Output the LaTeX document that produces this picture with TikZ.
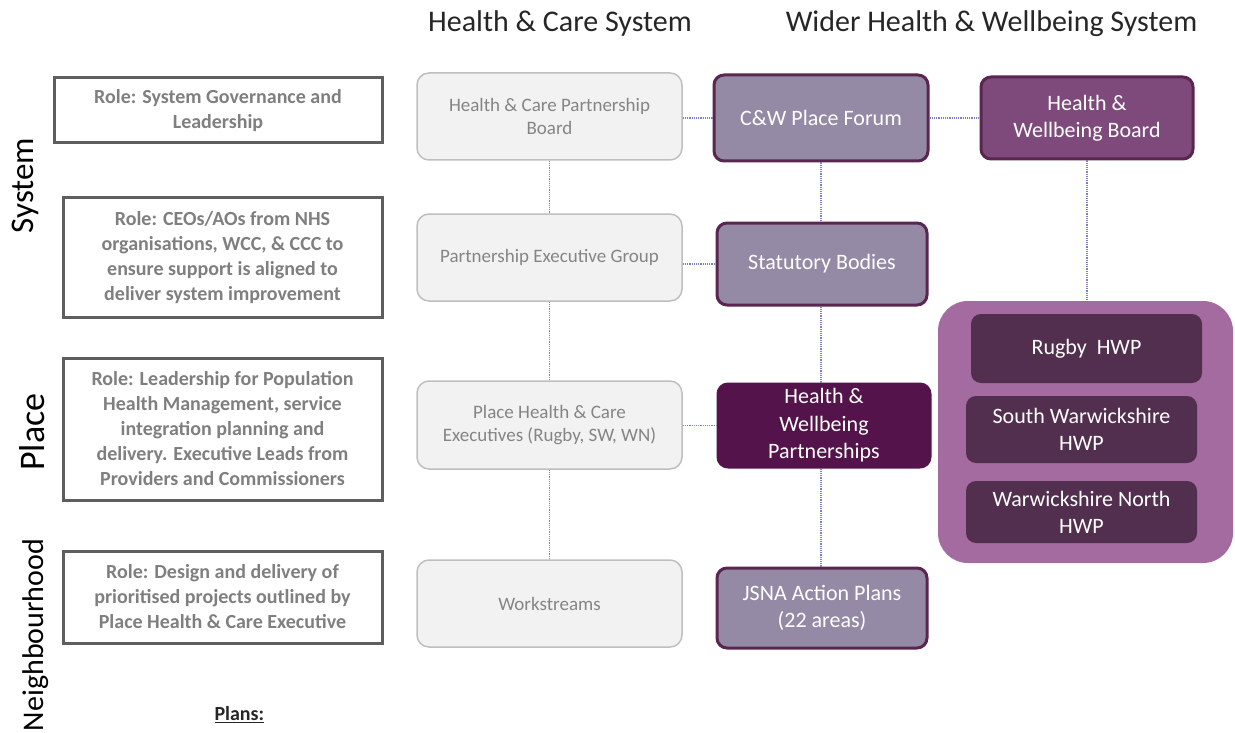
\documentclass[tikz,border=0pt]{standalone}
\usepackage{fontspec}
\setmainfont{Carlito}
\definecolor{rolegray}{HTML}{5E5E5E}
\definecolor{roletext}{HTML}{7F7F7F}
\definecolor{hcfill}{HTML}{F2F2F2}
\definecolor{hcborder}{HTML}{BFBFBF}
\definecolor{hctext}{HTML}{858585}
\definecolor{mauvefill}{HTML}{958AA5}
\definecolor{plumborder}{HTML}{5A2650}
\definecolor{plumdark}{HTML}{54134A}
\definecolor{boardfill}{HTML}{7D4A7B}
\definecolor{containerfill}{HTML}{A36B9F}
\definecolor{hwpfill}{HTML}{532F4F}
\definecolor{linkblue}{HTML}{7A80C2}
\definecolor{titleblack}{HTML}{262626}
\tikzset{
  rolebox/.style={draw=rolegray, line width=3pt, fill=white, text=roletext, align=center, inner sep=0pt,
    font=\bfseries\fontsize{20}{25}\selectfont},
  hcbox/.style={draw=hcborder, line width=1.5pt, fill=hcfill, rounded corners=12pt, text=hctext, align=center,
    inner sep=0pt, minimum width=265pt, minimum height=87pt, font=\fontsize{19}{23}\selectfont},
  purplebox/.style={draw=plumborder, line width=3pt, rounded corners=10pt, text=white, align=center, inner sep=0pt,
    font=\fontsize{22}{27.5}\selectfont},
  hwpbox/.style={fill=hwpfill, rounded corners=10pt, text=white, align=center, inner sep=0pt,
    minimum width=231pt, font=\fontsize{22}{27}\selectfont},
  sidelabel/.style={rotate=90, anchor=base, text=black},
  coltitle/.style={anchor=base, text=titleblack, font=\fontsize{30}{36}\selectfont},
  link/.style={draw=linkblue, line width=1.5pt, dash pattern=on 1.2pt off 1pt}
}
\begin{document}
\begin{tikzpicture}[x=1pt,y=-1pt]
\useasboundingbox[fill=white] (0,0) rectangle (1235,733);

% column titles
\node[coltitle] (t1) at (560,32) {Health \& Care System};
\node[coltitle] (t2) at (991.5,32) {Wider Health \& Wellbeing System};

% side labels
\node[sidelabel, font=\fontsize{33}{40}\selectfont] (lsys) at (33,185.5) {System};
\node[sidelabel, font=\fontsize{36}{43}\selectfont] (lplace) at (45,432) {Place};
\node[sidelabel, font=\fontsize{30}{36}\selectfont] (lnb) at (43,635) {Neighbourhood};

% role boxes
\node[rolebox, minimum width=328pt, minimum height=65pt] (r1) at (218,110.5)
  {Role: System Governance and\\Leadership};
\node[rolebox, minimum width=319pt, minimum height=119pt] (r2) at (222.5,257.5)
  {Role: CEOs/AOs from NHS\\organisations, WCC, \& CCC to\\ensure support is aligned to\\deliver system improvement};
\node[rolebox, minimum width=319pt, minimum height=142pt] (r3) at (222.5,429)
  {Role: Leadership for Population\\Health Management, service\\integration planning and\\delivery. Executive Leads from\\Providers and Commissioners};
\node[rolebox, minimum width=319pt, minimum height=92pt] (r4) at (222.5,597)
  {Role: Design and delivery of\\prioritised projects outlined by\\Place Health \& Care Executive};

% health & care system column
\node[hcbox] (hcpb) at (549.5,116.5) {Health \& Care Partnership\\Board};
\node[hcbox] (peg) at (549.5,257.5) {Partnership Executive Group};
\node[hcbox, minimum height=88pt] (phce) at (549.5,425) {Place Health \& Care\\Executives (Rugby, SW, WN)};
\node[hcbox] (ws) at (549.5,603.5) {Workstreams};

% wider system column
\node[purplebox, fill=mauvefill, minimum width=214pt, minimum height=86pt] (cw) at (821,118) {C\&W Place Forum};
\node[purplebox, fill=mauvefill, minimum width=210pt, minimum height=82pt] (stat) at (822,264) {Statutory Bodies};
\node[purplebox, fill=plumdark, draw=plumdark, minimum width=212pt, minimum height=83pt] (hwp) at (824,425.5)
  {Health \&\\Wellbeing\\Partnerships};
\node[purplebox, fill=mauvefill, minimum width=210pt, minimum height=80pt] (jsna) at (822,608)
  {JSNA Action Plans\\(22 areas)};

\node[purplebox, fill=boardfill, minimum width=212pt, minimum height=82pt, font=\fontsize{22}{27}\selectfont] (hwb) at (1087,118)
  {Health \&\\Wellbeing Board};

% HWP container
\node[fill=containerfill, rounded corners=30pt, minimum width=295pt, minimum height=262pt, inner sep=0pt] (cont) at (1085.5,432) {};
\node[hwpbox, minimum height=69pt] (rugby) at (1086.5,348.5) {Rugby\ \ HWP};
\node[hwpbox, minimum height=67pt] (sw) at (1081.5,429.5) {South Warwickshire\\HWP};
\node[hwpbox, minimum height=62pt] (wn) at (1081.5,512) {Warwickshire North\\HWP};

% plans
\node[anchor=west, text=titleblack, font=\bfseries\fontsize{20}{24}\selectfont] (plans) at (211,715) {\underline{Plans:}};

% connectors
\draw[link] (hcpb.east |- cw.west) -- (cw.west);
\draw[link] (cw.east) -- (cw.east -| hwb.west);
\draw[link] (hcpb.south) -- (peg.north);
\draw[link] (peg.south) -- (phce.north);
\draw[link] (phce.south) -- (ws.north);
\draw[link] (stat.west -| peg.east) -- (stat.west);
\draw[link] (hwp.west -| phce.east) -- (hwp.west);
\draw[link] (cw.south) -- (cw.south |- stat.north);
\draw[link] (stat.south -| cw.south) -- (hwp.north -| cw.south);
\draw[link] (hwp.south -| cw.south) -- (jsna.north -| cw.south);
\draw[link] (hwb.south) -- (hwb.south |- cont.north);
\end{tikzpicture}
\end{document}
